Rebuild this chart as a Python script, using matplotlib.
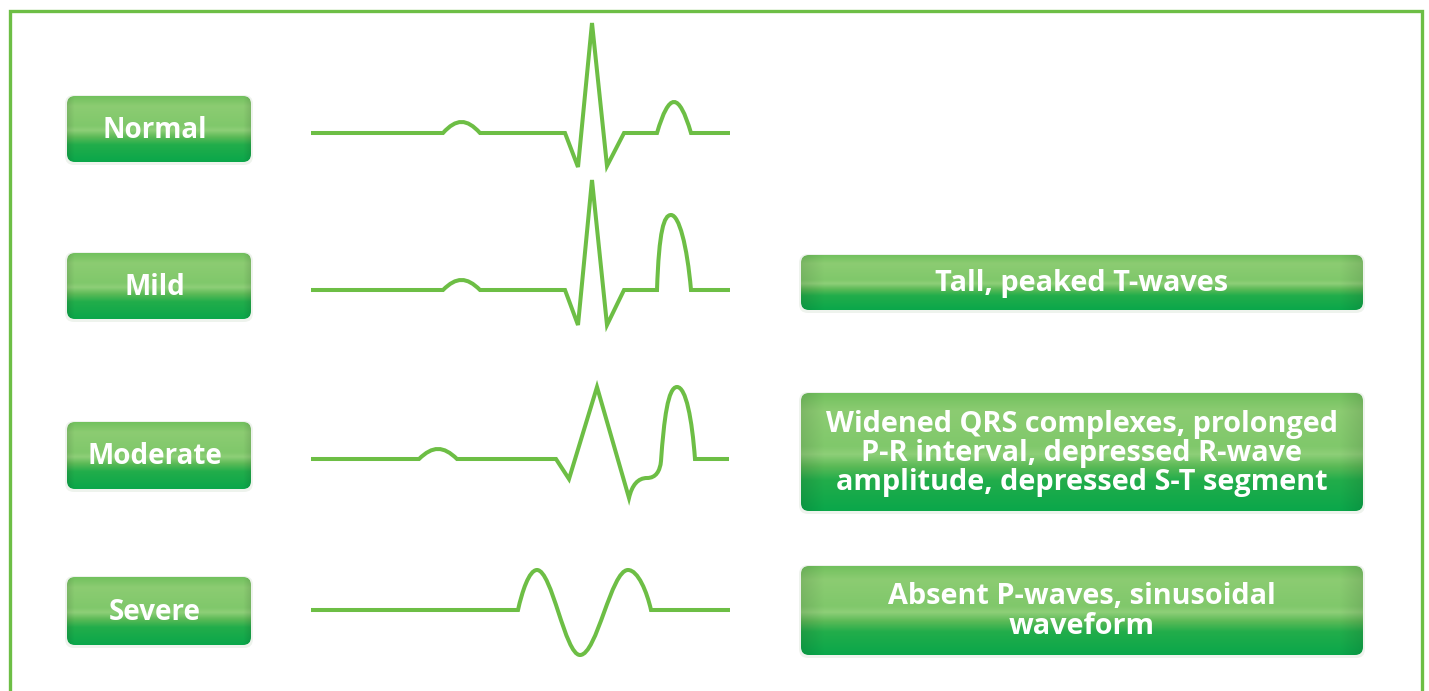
import numpy as np
import matplotlib
matplotlib.use("Agg")
from matplotlib import pyplot as plt
from matplotlib.path import Path
from matplotlib.patches import PathPatch, FancyBboxPatch, Rectangle
from matplotlib.colors import LinearSegmentedColormap

# --- data -------------------------------------------------------------
stages = ["Normal", "Mild", "Moderate", "Severe"]
baselines = [133, 290, 459, 610]          # trace baseline per stage (px)
stage_boxes = [(96, 162), (253, 319), (422, 489), (577, 645)]

notes = ["Tall, peaked T-waves",
         "Widened QRS complexes, prolonged\nP-R interval, depressed R-wave\namplitude, depressed S-T segment",
         "Absent P-waves, sinusoidal\nwaveform"]
note_boxes = [(255, 310), (393, 511), (566, 655)]

# trace segments: ("L", x, amp) straight, ("H", x_end, height) hump,
# ("C", c1x, c1a, c2x, c2a, x, amp) cubic; amp is upward from baseline
normal_trace = [("M", 311, 0), ("L", 443, 0), ("H", 480, 11), ("L", 565, 0),
                ("L", 578, -34), ("L", 592, 110), ("L", 607, -33), ("L", 624, 0),
                ("L", 657, 0), ("H", 691, 31), ("L", 730, 0)]
mild_trace = [("M", 311, 0), ("L", 443, 0), ("H", 480, 10), ("L", 565, 0),
              ("L", 578, -35), ("L", 592, 110), ("L", 607, -35), ("L", 624, 0),
              ("L", 657, 0), ("C", 659, 60, 664, 75, 671, 75),
              ("C", 679, 75, 687, 45, 691, 0), ("L", 730, 0)]
moderate_trace = [("M", 311, 0), ("L", 419, 0), ("H", 457, 10), ("L", 556, 0),
                  ("L", 569, -20), ("L", 597, 72), ("L", 629, -39),
                  ("C", 632, -26, 638, -19, 647, -19),
                  ("C", 656, -19, 660, -12, 661, -2),
                  ("C", 664, 40, 668, 72, 677, 72),
                  ("C", 686, 72, 692, 40, 695, 0), ("L", 729, 0)]
severe_trace = [("M", 311, 0), ("L", 518, 0),
                ("C", 522, 18, 529, 40, 537, 40),
                ("C", 552, 40, 565, -45, 580, -45),
                ("C", 597, -45, 611, 40, 628, 40),
                ("C", 638, 40, 647, 18, 651, 0), ("L", 730, 0)]
traces = [normal_trace, mild_trace, moderate_trace, severe_trace]

line_green = "#6dbe45"
grad_stops = [(0.0, "#72c15e"), (0.15, "#8ccc72"), (0.45, "#80c86b"),
              (0.52, "#8ecf78"), (0.62, "#5cba57"), (0.74, "#22ad4b"),
              (1.0, "#0aa74a")]
grad_cmap = LinearSegmentedColormap.from_list("btn", grad_stops)


def trace_path(segs, base):
    verts, codes = [], []
    cur = None
    for s in segs:
        kind = s[0]
        if kind == "M":
            verts.append((s[1], base - s[2])); codes.append(Path.MOVETO)
            cur = (s[1], s[2])
        elif kind == "L":
            verts.append((s[1], base - s[2])); codes.append(Path.LINETO)
            cur = (s[1], s[2])
        elif kind == "H":
            x0, x1, h = cur[0], s[1], s[2]
            w = x1 - x0
            c = h / 0.75
            verts += [(x0 + 0.36 * w, base - c), (x1 - 0.36 * w, base - c), (x1, base)]
            codes += [Path.CURVE4] * 3
            cur = (x1, 0)
        elif kind == "C":
            verts += [(s[1], base - s[2]), (s[3], base - s[4]), (s[5], base - s[6])]
            codes += [Path.CURVE4] * 3
            cur = (s[5], s[6])
    return Path(verts, codes)


def button(ax, x0, x1, y0, y1, text, fs=20, dx=0):
    # soft shadow
    ax.add_patch(FancyBboxPatch((x0 - 2, y0 - 1), x1 - x0 + 4, y1 - y0 + 4,
                                boxstyle="round,pad=0,rounding_size=9",
                                fc="#dfe8dc", ec="none", alpha=0.5, zorder=1))
    box = FancyBboxPatch((x0, y0), x1 - x0, y1 - y0,
                         boxstyle="round,pad=0,rounding_size=8",
                         fc="none", ec="none", zorder=2)
    ax.add_patch(box)
    v = np.linspace(0, 1, 200)
    rgb = grad_cmap(v)[:, :3]
    u = np.linspace(0, 1, 300)
    edge = 1 - 0.10 * (np.clip(1 - np.minimum(u, 1 - u) / 0.04, 0, 1))
    img = rgb[:, None, :] * edge[None, :, None]
    im = ax.imshow(img, extent=[x0, x1, y1, y0], origin="upper",
                   aspect="auto", zorder=2, interpolation="bilinear")
    im.set_clip_path(box)
    ax.text((x0 + x1) / 2 + dx, (y0 + y1) / 2 + 1, text, color="white",
            fontsize=fs, fontweight="bold", family=["Open Sans", "DejaVu Sans"],
            ha="center", va="center", linespacing=1.0, zorder=3)


fig = plt.figure(figsize=(14.29, 6.91), dpi=100)
ax = fig.add_axes([0, 0, 1, 1])
ax.set_xlim(0, 1429)
ax.set_ylim(691, 0)
ax.axis("off")

# outer frame
ax.add_patch(Rectangle((10, 11), 1412, 700, fc="white", ec=line_green,
                       lw=2.4, zorder=0))

for name, (y0, y1) in zip(stages, stage_boxes):
    button(ax, 67, 251, y0, y1, name, fs=20, dx=-4)

for note, (y0, y1) in zip(notes, note_boxes):
    button(ax, 801, 1363, y0, y1, note, fs=20.8)

for segs, base in zip(traces, baselines):
    ax.add_patch(PathPatch(trace_path(segs, base), fc="none", ec=line_green,
                           lw=2.9, joinstyle="miter", capstyle="butt", zorder=4))

fig.savefig("out.png", dpi=100)
